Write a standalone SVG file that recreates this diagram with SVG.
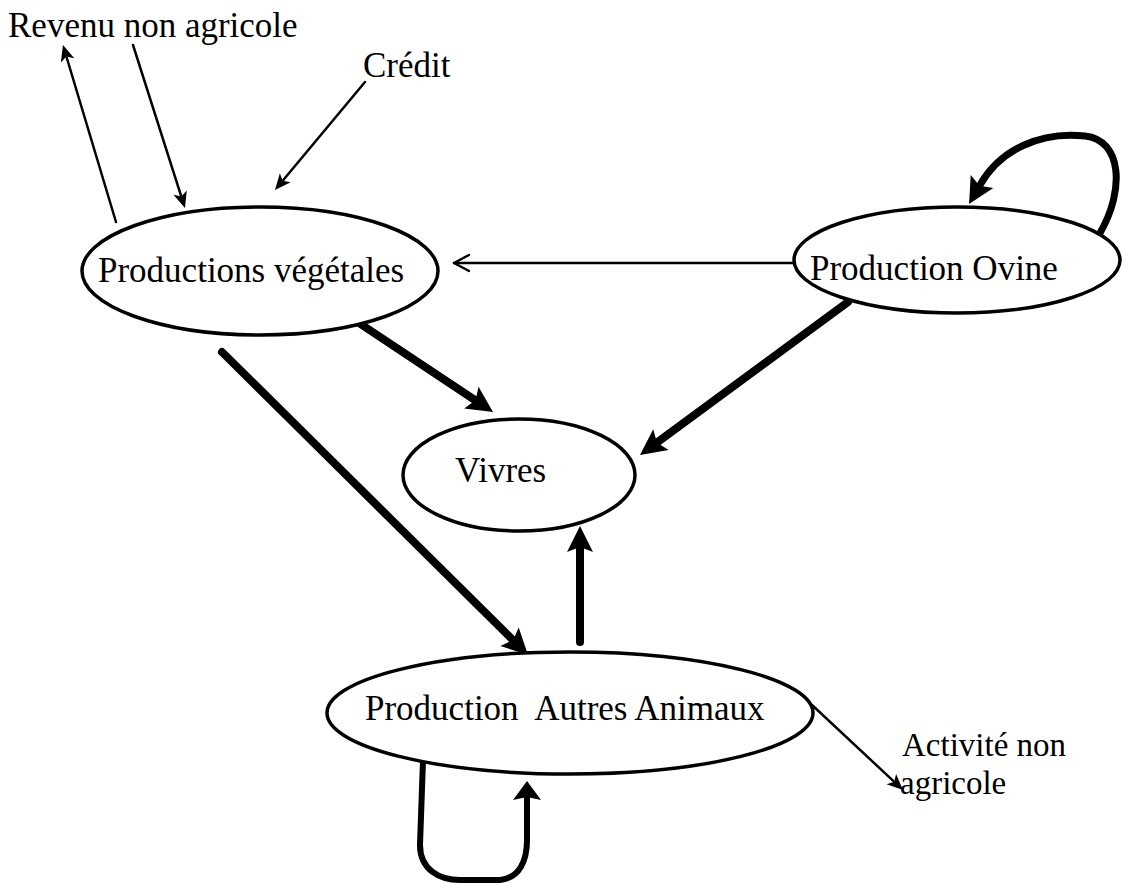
<svg xmlns="http://www.w3.org/2000/svg" width="1127" height="883" viewBox="0 0 1127 883">
  <style>
    .lbl { font-family: "Liberation Serif", "Times New Roman", serif; font-size: 35px; fill: #000; white-space: pre; }
    .lbl-sm { font-size: 33px; }
    .node { fill: #fff; stroke: #000; stroke-width: 3.5; }
    .thin { fill: none; stroke: #000; stroke-width: 2.5; stroke-linecap: round; }
    .thick { fill: none; stroke: #000; stroke-width: 8; stroke-linecap: round; }
    .loop { fill: none; stroke: #000; stroke-width: 6; stroke-linecap: round; stroke-linejoin: round; }
  </style>
  <defs>
    <!-- small filled barbed head for thin links -->
    <marker id="headThin" markerUnits="userSpaceOnUse" viewBox="-1 -9 20 18" markerWidth="20" markerHeight="18" refX="3" refY="0" orient="auto">
      <path d="M0,-7 L16,0 L0,7 L4,0 Z" fill="#000"/>
    </marker>
    <!-- open chevron head -->
    <marker id="headOpen" markerUnits="userSpaceOnUse" viewBox="-18 -10 20 20" markerWidth="20" markerHeight="20" refX="0" refY="0" orient="auto">
      <path d="M-15,-8 L0,0 L-15,8" fill="none" stroke="#000" stroke-width="2.5" stroke-linecap="round" stroke-linejoin="round"/>
    </marker>
    <!-- large filled head for heavy flows -->
    <marker id="headThick" markerUnits="userSpaceOnUse" viewBox="-2 -15 32 30" markerWidth="32" markerHeight="30" refX="4" refY="0" orient="auto">
      <path d="M0,-13 L26,0 L0,13 L5,0 Z" fill="#000"/>
    </marker>
    <!-- short wide head for the lower loop -->
    <marker id="headLoop" markerUnits="userSpaceOnUse" viewBox="-2 -16 24 32" markerWidth="24" markerHeight="32" refX="3" refY="0" orient="auto">
      <path d="M0,-14 L19,0 L0,14 L3,0 Z" fill="#000"/>
    </marker>
  </defs>

  <g id="connectors">
    <!-- Productions végétales -> Revenu non agricole -->
    <path class="thin" d="M116,222 L66.7,57.5" marker-end="url(#headThin)"/>
    <!-- Revenu non agricole -> Productions végétales -->
    <path class="thin" d="M133,45 L181,195.6" marker-end="url(#headThin)"/>
    <!-- Crédit -> Productions végétales -->
    <path class="thin" d="M365,82 L283.3,180" marker-end="url(#headThin)"/>
    <!-- Production Ovine -> Productions végétales -->
    <path class="thin" d="M794,263 L454,263" marker-end="url(#headOpen)"/>
    <!-- Production Ovine self loop -->
    <path class="thick" style="stroke-width:7" d="M1100,233 C1125,190 1122,140 1085,136 C1040,131 1000,150 980,185" marker-end="url(#headThick)"/>
    <!-- Productions végétales -> Vivres -->
    <path class="thick" d="M347,315 L474.7,399.8" marker-end="url(#headThick)"/>
    <!-- Production Ovine -> Vivres -->
    <path class="thick" d="M848,302 L657.7,442" marker-end="url(#headThick)"/>
    <!-- Productions végétales -> Production Autres Animaux -->
    <path class="thick" d="M222,352 L512.4,639.5" marker-end="url(#headThick)"/>
    <!-- Production Autres Animaux -> Vivres -->
    <path class="thick" d="M580,642 L580,548" marker-end="url(#headThick)"/>
    <!-- Production Autres Animaux self loop -->
    <path class="loop" d="M423,760 L420,845 C420,870 440,880 460,880 L500,880 C520,878 527,860 527,840 L527,797" marker-end="url(#headLoop)"/>
    <!-- Production Autres Animaux -> Activité non agricole -->
    <path class="thin" d="M812,705 L893.5,781.1" marker-end="url(#headThin)"/>
  </g>

  <g id="node-vegetales">
    <ellipse class="node" cx="260" cy="271" rx="178" ry="64"/>
    <text class="lbl" x="98" y="282">Productions végétales</text>
  </g>

  <g id="node-ovine">
    <ellipse class="node" cx="957" cy="260" rx="163" ry="53"/>
    <text class="lbl" x="810" y="280">Production Ovine</text>
  </g>

  <g id="node-vivres">
    <ellipse class="node" cx="519" cy="475" rx="116" ry="56"/>
    <text class="lbl" x="455" y="482">Vivres</text>
  </g>

  <g id="node-autres-animaux">
    <ellipse class="node" cx="570" cy="713" rx="243" ry="61"/>
    <text class="lbl" x="365" y="720">Production  Autres Animaux</text>
  </g>

  <g id="label-revenu">
    <text class="lbl" x="8" y="37">Revenu non agricole</text>
  </g>

  <g id="label-credit">
    <text class="lbl" x="363" y="77">Crédit</text>
  </g>

  <g id="label-activite">
    <text class="lbl lbl-sm" x="902" y="756">Activité non</text>
    <text class="lbl lbl-sm" x="900" y="794">agricole</text>
  </g>
</svg>
